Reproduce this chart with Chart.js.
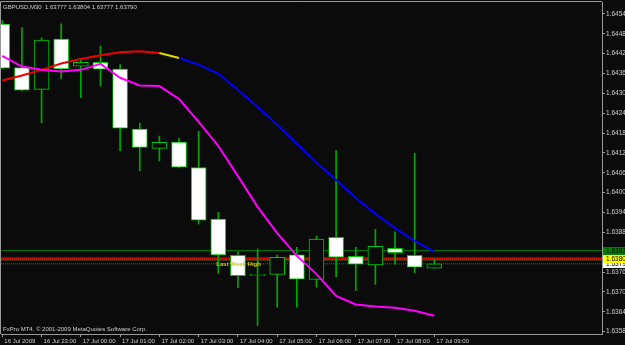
<!DOCTYPE html>
<html><head><meta charset="utf-8">
<style>html,body{margin:0;padding:0;background:#0b0b0b;overflow:hidden}</style>
<script src="https://cdn.jsdelivr.net/npm/chart.js@4.4.1/dist/chart.umd.min.js"></script>
</head><body>
<canvas id="c" width="625" height="345"></canvas>
<script>
const symbol = 'GBPUSD';
const period = 'M30';
const copyright = 'FxPro MT4, \u00A9 2001-2009 MetaQuotes Software Corp.';
const times = ['16 Jul 22:00','16 Jul 22:30','16 Jul 23:00','16 Jul 23:30','17 Jul 00:00','17 Jul 00:30','17 Jul 01:00','17 Jul 01:30','17 Jul 02:00','17 Jul 02:30','17 Jul 03:00','17 Jul 03:30','17 Jul 04:00','17 Jul 04:30','17 Jul 05:00','17 Jul 05:30','17 Jul 06:00','17 Jul 06:30','17 Jul 07:00','17 Jul 07:30','17 Jul 08:00','17 Jul 08:30','17 Jul 09:00'];
const opens  = [1.64514,1.64383,1.64317,1.64469,1.64387,1.64399,1.64378,1.64197,1.64139,1.64158,1.64081,1.63925,1.63816,1.63755,1.63758,1.63817,1.63743,1.63870,1.63813,1.63787,1.63837,1.63816,1.63777];
const highs  = [1.64525,1.64504,1.64473,1.64515,1.64408,1.64448,1.64392,1.64215,1.64176,1.64170,1.64191,1.63946,1.63827,1.63835,1.63817,1.63840,1.63874,1.64132,1.63840,1.63894,1.63887,1.64124,1.63804];
const lows   = [1.64379,1.64313,1.64216,1.64349,1.64292,1.64327,1.64132,1.64071,1.64101,1.64080,1.63910,1.63761,1.63718,1.63603,1.63659,1.63659,1.63719,1.63751,1.63709,1.63728,1.63789,1.63763,1.63777];
const closes = [1.64381,1.64315,1.64466,1.64379,1.64399,1.64378,1.64200,1.64142,1.64157,1.64082,1.63922,1.63817,1.63754,1.63755,1.63810,1.63744,1.63865,1.63810,1.63789,1.63843,1.63824,1.63780,1.63790];
const fastMA  = [1.64418,1.64386,1.64376,1.64371,1.64376,1.64394,1.64352,1.64329,1.64327,1.64288,1.64219,1.64146,1.64055,1.63962,1.63883,1.63814,1.63759,1.63693,1.63667,1.63661,1.63657,1.63648,1.63633];
const trendMA = [1.64344,1.64359,1.64376,1.64395,1.64409,1.64420,1.64429,1.64432,1.64427,1.64412,1.64392,1.64364,1.64315,1.64264,1.64210,1.64152,1.64095,1.64043,1.63989,1.63941,1.63898,1.63859,1.63826];
const trendState = ['up','up','up','up','up','up','up','up','flat','down','down','down','down','down','down','down','down','down','down','down','down','down','down'];
const yTickValues = [1.64545,1.64485,1.64425,1.64365,1.64305,1.64245,1.64185,1.64125,1.64065,1.64005,1.63945,1.63885,1.63825,1.63765,1.63705,1.63645,1.63585];
const xTickLabels = ['16 Jul 2009','16 Jul 23:00','17 Jul 00:00','17 Jul 01:00','17 Jul 02:00','17 Jul 03:00','17 Jul 04:00','17 Jul 05:00','17 Jul 06:00','17 Jul 07:00','17 Jul 08:00','17 Jul 09:00'];
const levelPrices = [1.63830, 1.63807, 1.63802, 1.63790];
const levelNames  = ['greenLine','redLine','lastWeekHigh','bid'];
const priceTags   = [1.63790, 1.63804, 1.63830];
const lastWeekHighText = 'Last Week High';

const FONT = "'Liberation Sans',Arial,sans-serif";
const BG = '#0b0b0b';
const AXIS = '#9a9a9a';
const TXT = '#cfcfcf';
const xMin = -0.066, xMax = 30.54, yMin = 1.63578, yMax = 1.64581;
const xTickIdx = times.map((t,i)=> t.endsWith(':00') ? i : -1).filter(i => i >= 0);

const trendColors = {up:'#ee0000', flat:'#dddd00', down:'#0000ff'};
const levelStyles = {
  greenLine:   {color:'#007800', width:1, dash:[]},
  redLine:     {color:'#c80000', width:2, dash:[]},
  lastWeekHigh:{color:'#7a7a00', width:1, dash:[]},
  bid:         {color:'#5a5a5a', width:1, dash:[1,1]}
};

const levelDatasets = levelPrices.map((p,k)=>({
  type:'line', label:levelNames[k],
  data:[{x:xMin,y:p},{x:xMax,y:p}],
  borderColor:levelStyles[levelNames[k]].color,
  borderWidth:levelStyles[levelNames[k]].width,
  borderDash:levelStyles[levelNames[k]].dash,
  pointRadius:0, tension:0, order:10
}));

const decor = {
  id:'decor',
  beforeDraw(chart){
    const ctx = chart.ctx;
    ctx.save(); ctx.fillStyle = BG; ctx.fillRect(0,0,chart.width,chart.height); ctx.restore();
  },
  afterDatasetsDraw(chart){
    const ctx = chart.ctx, xs = chart.scales.x, ys = chart.scales.y;
    ctx.save();
    ctx.font = 'bold 6px ' + FONT;
    ctx.fillStyle = '#c8c828';
    ctx.textBaseline = 'middle';
    ctx.textAlign = 'left';
    ctx.fillText(lastWeekHighText, xs.getPixelForValue(10.9), ys.getPixelForValue(levelPrices[3]) + 0.5);
    ctx.restore();
  },
  afterDraw(chart){
    const ctx = chart.ctx, a = chart.chartArea, ys = chart.scales.y;
    ctx.save();
    ctx.strokeStyle = AXIS; ctx.lineWidth = 1;
    ctx.beginPath();
    ctx.moveTo(a.left - 0.5, a.bottom); ctx.lineTo(a.left - 0.5, a.top - 0.5); ctx.lineTo(a.right, a.top - 0.5);
    ctx.stroke();
    const tagBg = ['#ffffff','#ffff00','#008000'];
    ctx.font = '6.5px ' + FONT; ctx.textBaseline = 'middle'; ctx.textAlign = 'left';
    priceTags.forEach((p,k)=>{
      const y = ys.getPixelForValue(p);
      ctx.fillStyle = tagBg[k];
      ctx.fillRect(a.right + 1, Math.round(y) - 4, chart.width - a.right - 1, 8);
      ctx.fillStyle = '#000000';
      ctx.fillText(p.toFixed(5), a.right + 4, y + 0.5);
    });
    ctx.fillStyle = TXT;
    ctx.font = '6px ' + FONT;
    const n = opens.length - 1;
    ctx.fillText(symbol + ',' + period + '  ' + opens[n].toFixed(5) + ' ' + highs[n].toFixed(5) + ' ' + lows[n].toFixed(5) + ' ' + closes[n].toFixed(5), a.left + 2, a.top + 5);
    ctx.fillText(copyright, a.left + 2, a.bottom - 5);
    ctx.restore();
  }
};

new Chart(document.getElementById('c'), {
  type:'bar',
  data:{
    datasets:[
      {type:'line', label:'fastMA', data:fastMA.map((v,i)=>({x:i,y:v})), borderColor:'#ff00ff', borderWidth:2, pointRadius:0, tension:0, order:1},
      {type:'line', label:'trendMA', data:trendMA.map((v,i)=>({x:i,y:v})), borderColor:'#ee0000',
        segment:{borderColor: c => trendColors[trendState[c.p0DataIndex]]}, borderWidth:2, pointRadius:0, tension:0, order:1},
      {type:'bar', label:'body', data:opens.map((o,i)=>({x:i,y:[o,closes[i]]})),
        backgroundColor:closes.map((c,i)=> c < opens[i] ? '#ffffff' : BG),
        borderColor:'#00c800', borderWidth:1, borderSkipped:false, barThickness:15, minBarLength:1, grouped:false, order:3},
      {type:'bar', label:'wick', data:lows.map((l,i)=>({x:i,y:[l,highs[i]]})),
        backgroundColor:'#00a800', borderWidth:0, barThickness:1, grouped:false, order:4},
      ...levelDatasets
    ]
  },
  options:{
    responsive:false, animation:false,
    layout:{padding:{left:1, top:2, right:0, bottom:0}},
    plugins:{legend:{display:false}, tooltip:{enabled:false}},
    scales:{
      x:{type:'linear', min:xMin, max:xMax, offset:false,
        afterBuildTicks: s => { s.ticks = xTickIdx.map(v=>({value:v})); },
        afterFit: s => { s.height = 11; s.paddingLeft = 0; s.paddingRight = 0; },
        ticks:{autoSkip:false, maxRotation:0, minRotation:0, align:'start', labelOffset:2, padding:1, color:TXT,
          font:{family:FONT, size:6}, callback:(v,i)=> xTickLabels[i]},
        grid:{drawOnChartArea:false, drawTicks:true, tickLength:3, color:AXIS, offset:false},
        border:{display:true, color:AXIS}},
      y:{position:'right', min:yMin, max:yMax,
        afterBuildTicks: s => { s.ticks = yTickValues.map(v=>({value:v})); },
        afterFit: s => { s.width = 23; s.paddingTop = 0; s.paddingBottom = 0; },
        ticks:{padding:1, color:TXT, font:{family:FONT, size:6.5}, callback: v => v.toFixed(5)},
        grid:{drawOnChartArea:false, tickLength:3, color:AXIS},
        border:{display:true, color:AXIS}}
    }
  },
  plugins:[decor]
});
</script>
</body></html>
